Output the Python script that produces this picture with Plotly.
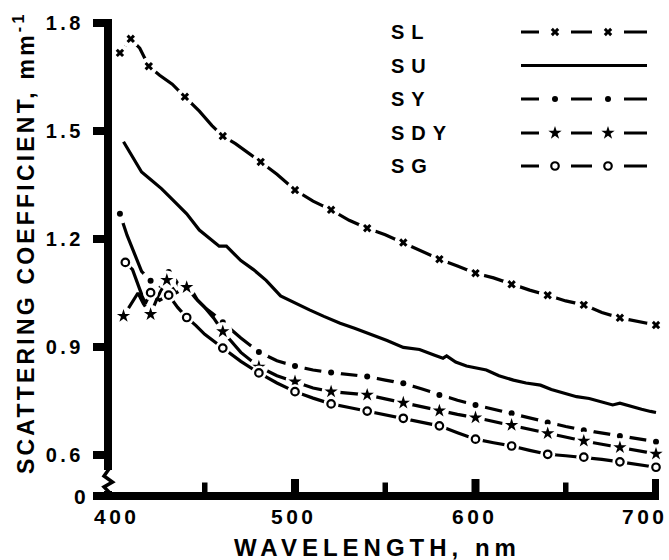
import plotly.graph_objects as go

# ---------------- data ----------------
SL_WL = [403, 409, 414, 419, 425, 432, 439, 447, 454, 460, 467, 474, 481, 490, 500, 510, 520, 530, 540,
         550, 560, 570, 580, 590, 600, 610, 620, 630, 640, 650, 660, 670, 680, 690, 700]
SL_VAL = [1.717, 1.756, 1.73, 1.68, 1.655, 1.63, 1.595, 1.555, 1.515, 1.486, 1.465, 1.44, 1.414, 1.38,
          1.336, 1.305, 1.281, 1.252, 1.230, 1.212, 1.190, 1.168, 1.144, 1.125, 1.105, 1.092, 1.074, 1.058,
          1.044, 1.028, 1.017, 0.996, 0.981, 0.972, 0.961]
SL_MARK = [403, 409, 419, 439, 460, 481, 500, 520, 540, 560, 580, 600, 620, 640, 660, 680, 700]

SU_WL = [405, 410, 415, 420, 426, 432, 440, 447, 453, 458, 462, 466, 470, 477, 484, 492, 500, 508, 516,
         525, 533, 542, 551, 560, 569, 577, 582, 584, 589, 595, 600, 606, 613, 621, 628, 636, 642, 649,
         656, 663, 670, 676, 680, 686, 692, 697, 700]
SU_VAL = [1.47, 1.43, 1.386, 1.365, 1.34, 1.31, 1.27, 1.225, 1.20, 1.18, 1.18, 1.16, 1.14, 1.115, 1.085,
          1.042, 1.022, 1.003, 0.985, 0.966, 0.952, 0.936, 0.918, 0.899, 0.893, 0.878, 0.869, 0.875, 0.858,
          0.847, 0.841, 0.836, 0.82, 0.808, 0.8, 0.794, 0.782, 0.771, 0.762, 0.757, 0.748, 0.739, 0.744,
          0.735, 0.727, 0.721, 0.718]

SY_WL = [403, 407, 411, 415, 420, 425, 430, 434, 438, 442, 446, 450, 455, 460, 470, 480, 490, 500, 510,
         520, 530, 540, 550, 560, 570, 580, 590, 600, 610, 620, 630, 640, 650, 660, 670, 680, 690, 700]
SY_VAL = [1.27, 1.21, 1.16, 1.11, 1.084, 1.07, 1.108, 1.085, 1.05, 1.065, 1.03, 1.01, 0.99, 0.969, 0.925,
          0.886, 0.862, 0.847, 0.836, 0.829, 0.824, 0.818, 0.808, 0.799, 0.784, 0.767, 0.752, 0.739, 0.727,
          0.716, 0.703, 0.690, 0.679, 0.669, 0.661, 0.653, 0.645, 0.637]
SY_MARK = [403, 420, 430, 460, 480, 500, 520, 540, 560, 580, 600, 620, 640, 660, 680, 700]

SDY_WL = [405, 409, 413, 416, 420, 424, 429, 434, 440, 445, 450, 455, 460, 470, 480, 490, 500, 510, 520,
          530, 540, 550, 560, 570, 580, 590, 600, 610, 620, 630, 640, 650, 660, 670, 680, 690, 700]
SDY_VAL = [0.986, 1.02, 1.05, 1.02, 0.991, 1.04, 1.086, 1.05, 1.066, 1.035, 1.01, 0.98, 0.943, 0.885,
           0.845, 0.82, 0.804, 0.786, 0.776, 0.771, 0.767, 0.756, 0.745, 0.734, 0.723, 0.713, 0.704, 0.693,
           0.683, 0.671, 0.660, 0.649, 0.639, 0.63, 0.621, 0.612, 0.603]
SDY_MARK = [405, 420, 429, 440, 460, 480, 500, 520, 540, 560, 580, 600, 620, 640, 660, 680, 700]

SG_WL = [406, 410, 414, 417, 420, 425, 430, 435, 440, 445, 450, 455, 460, 470, 480, 490, 500, 510, 520,
         530, 540, 550, 560, 570, 580, 590, 600, 610, 620, 630, 640, 650, 660, 670, 680, 690, 700]
SG_VAL = [1.135, 1.115, 1.06, 1.02, 1.051, 1.03, 1.044, 1.01, 0.982, 0.96, 0.935, 0.915, 0.897, 0.86,
          0.828, 0.80, 0.776, 0.758, 0.742, 0.732, 0.722, 0.712, 0.702, 0.692, 0.681, 0.662, 0.644, 0.634,
          0.625, 0.613, 0.602, 0.598, 0.594, 0.588, 0.581, 0.573, 0.566]
SG_MARK = [406, 420, 430, 440, 460, 480, 500, 520, 540, 560, 580, 600, 620, 640, 660, 680, 700]

SERIES_NAMES = ["SL", "SU", "SY", "SDY", "SG"]
X_TICKS = [500, 600, 700]
X_MINOR = [450, 550, 650]
X_LABELS = ["400", "500", "600", "700"]
Y_TICKS = [0.6, 0.9, 1.2, 1.5, 1.8]

# ---------------- geometry ----------------
W, H = 669, 560
L, R, T, B = 112, 659, 19, 492          # plot-area edges in pixels
PX_PER_NM = 1.805
X0 = 400 - 2.5 / PX_PER_NM
X1 = X0 + (R - L) / PX_PER_NM
PX_PER_UNIT = 360.0
Y1 = 1.8 + 4 / PX_PER_UNIT
Y0 = Y1 - (B - T) / PX_PER_UNIT

FONT = "Liberation Sans"
LW = 3.2


def px2x(px):
    return X0 + (px - L) / PX_PER_NM


def py2y(py):
    return Y1 - (py - T) / PX_PER_UNIT


def pxp(px):
    return (px - L) / (R - L)


def pyp(py):
    return (B - py) / (B - T)


def spaced(text, sp):
    return f"<b><span style='letter-spacing:{sp}px'>{text}</span></b>"


def bfont(size):
    return dict(family=FONT, size=size, weight="bold", color="black")


fig = go.Figure()

STYLE = {
    "SL": dict(symbol="x", size=7.5, line=dict(width=0), halo=18),
    "SY": dict(symbol="circle", size=6, line=dict(width=0), halo=20),
    "SDY": dict(symbol="star", size=10, line=dict(width=0), halo=19),
    "SG": dict(symbol="circle-open", size=7.5, line=dict(width=2.2, color="black"), halo=15),
}


def add_series(name, wl, val, marks):
    fig.add_trace(go.Scatter(x=wl, y=val, mode="lines", line=dict(color="black", width=LW),
                             hoverinfo="skip", showlegend=False))
    if marks is None:
        return
    st = STYLE[name]
    mx = [w for w in wl if w in marks]
    my = [v for w, v in zip(wl, val) if w in marks]
    fig.add_trace(go.Scatter(x=mx, y=my, mode="markers", cliponaxis=False,
                             marker=dict(symbol="circle", size=st["halo"], color="white"),
                             hoverinfo="skip", showlegend=False))
    fig.add_trace(go.Scatter(x=mx, y=my, mode="markers", cliponaxis=False,
                             marker=dict(symbol=st["symbol"], size=st["size"], color="black",
                                         line=st["line"]),
                             hoverinfo="skip", showlegend=False))


add_series("SL", SL_WL, SL_VAL, SL_MARK)
add_series("SU", SU_WL, SU_VAL, None)
add_series("SY", SY_WL, SY_VAL, SY_MARK)
add_series("SDY", SDY_WL, SDY_VAL, SDY_MARK)
add_series("SG", SG_WL, SG_VAL, SG_MARK)

# ---------------- hand-drawn key ----------------
annotations = []
ROW_Y = [32, 65.5, 99, 133, 166]
for name, ry in zip(SERIES_NAMES, ROW_Y):
    annotations.append(dict(x=pxp(389), y=pyp(ry), xref="paper", yref="paper", xanchor="left",
                            yanchor="middle", showarrow=False, text=spaced(name, 7),
                            font=bfont(20)))
    fig.add_trace(go.Scatter(x=[px2x(521), px2x(647)], y=[py2y(ry), py2y(ry)], mode="lines",
                             line=dict(color="black", width=LW), hoverinfo="skip", showlegend=False))
    if name in STYLE:
        st = STYLE[name]
        kx = [px2x(555), px2x(608)]
        ky = [py2y(ry), py2y(ry)]
        fig.add_trace(go.Scatter(x=kx, y=ky, mode="markers",
                                 marker=dict(symbol="square", size=32, color="white"),
                                 hoverinfo="skip", showlegend=False))
        fig.add_trace(go.Scatter(x=kx, y=ky, mode="markers",
                                 marker=dict(symbol=st["symbol"], size=st["size"], color="black",
                                             line=st["line"]),
                                 hoverinfo="skip", showlegend=False))

# x tick labels (the 700 label sits a little left of its tick in the original)
LABEL_PX = {"400": 117, "500": 294, "600": 475, "700": 645}
for lab in X_LABELS:
    annotations.append(dict(x=pxp(LABEL_PX[lab]), y=pyp(516), xref="paper", yref="paper",
                            showarrow=False, xanchor="center", yanchor="middle",
                            text=spaced(lab, 3.5), font=bfont(21)))
annotations.append(dict(x=pxp(80), y=pyp(497), xref="paper", yref="paper", showarrow=False,
                        xanchor="center", yanchor="middle", text=spaced("0", 0),
                        font=bfont(21)))
# axis titles
annotations.append(dict(x=pxp(377), y=pyp(547), xref="paper", yref="paper", showarrow=False,
                        xanchor="center", yanchor="middle", text=spaced("WAVELENGTH, nm", 5),
                        font=bfont(24)))
annotations.append(dict(x=pxp(24), y=pyp(243), xref="paper", yref="paper", showarrow=False,
                        xanchor="center", yanchor="middle", textangle=-90,
                        text=spaced("SCATTERING COEFFICIENT, mm<sup>-1</sup>", 3.2),
                        font=bfont(23)))

# ---------------- x ticks and axis break ----------------
shapes = []
for v in X_TICKS:
    shapes.append(dict(type="line", xref="x", yref="paper", x0=v, x1=v, y0=pyp(492), y1=pyp(479),
                       line=dict(color="black", width=8), layer="above"))
for v in X_MINOR:
    shapes.append(dict(type="line", xref="x", yref="paper", x0=v, x1=v, y0=pyp(492), y1=pyp(482.5),
                       line=dict(color="black", width=5.5), layer="above"))
shapes += [
    dict(type="rect", xref="paper", yref="paper", x0=pxp(102), x1=pxp(115), y0=pyp(470), y1=pyp(491),
         fillcolor="white", line=dict(width=0), layer="above"),
    dict(type="path", xref="paper", yref="paper", layer="above",
         path="M {:.4f},{:.4f} L {:.4f},{:.4f} L {:.4f},{:.4f} L {:.4f},{:.4f} L {:.4f},{:.4f}".format(
             pxp(109), pyp(469), pxp(104), pyp(476), pxp(112.5), pyp(482), pxp(104), pyp(487),
             pxp(110), pyp(493)),
         line=dict(color="black", width=3.5)),
    dict(type="line", xref="paper", yref="paper", x0=pxp(93), x1=pxp(106), y0=pyp(496), y1=pyp(496),
         line=dict(color="black", width=8), layer="above"),
]

fig.update_layout(
    width=W, height=H,
    margin=dict(l=L, r=W - R, t=T, b=H - B, pad=0),
    paper_bgcolor="white", plot_bgcolor="white",
    showlegend=False,
    annotations=annotations,
    shapes=shapes,
    xaxis=dict(range=[X0, X1], showgrid=False, zeroline=False, showline=True, linewidth=8,
               linecolor="black", ticks="", showticklabels=False, fixedrange=True),
    yaxis=dict(range=[Y0, Y1], showgrid=False, zeroline=False, showline=True, linewidth=8,
               linecolor="black", ticks="outside", ticklen=11, tickwidth=8, tickcolor="black",
               tickvals=Y_TICKS, ticktext=[spaced(f"{v:.1f}", 3.5) for v in Y_TICKS],
               tickfont=bfont(20), ticklabelstandoff=5,
               fixedrange=True),
)

fig.write_html("out.html", post_script="document.body.style.margin='0';",
               config={"displayModeBar": False})
